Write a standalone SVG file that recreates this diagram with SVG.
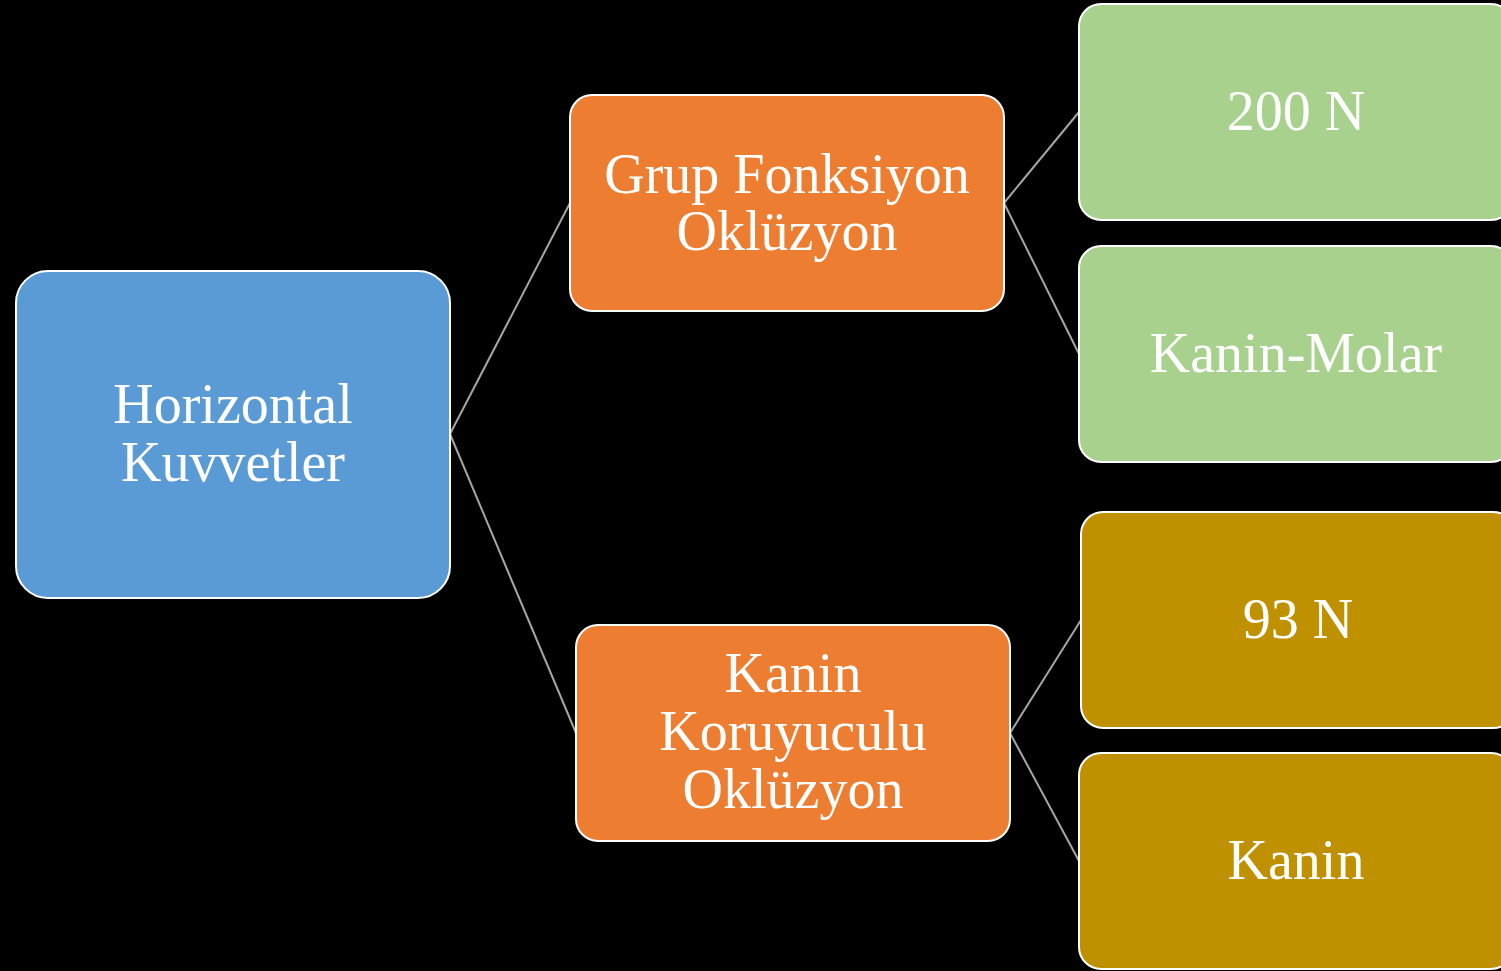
<svg xmlns="http://www.w3.org/2000/svg" width="1501" height="971" viewBox="0 0 1501 971">
<style>
.box{stroke:#fff;stroke-width:2}
.blue{fill:#5B9BD5}.orange{fill:#ED7D31}.green{fill:#A9D18E}.gold{fill:#BF9000}
.t{font-family:"Liberation Serif","Times New Roman",serif;font-size:56px;fill:#fff;text-anchor:middle}
.c{stroke:#A6A6A6;stroke-width:2;fill:none}
</style>
<rect width="1501" height="971" fill="#000"/>
<g id="connectors">
<line class="c" x1="450" y1="434" x2="570" y2="203"/>
<line class="c" x1="450" y1="434" x2="576" y2="733"/>
<line class="c" x1="1004" y1="203" x2="1079" y2="112"/>
<line class="c" x1="1004" y1="203" x2="1079" y2="354"/>
<line class="c" x1="1010" y1="733" x2="1081" y2="620"/>
<line class="c" x1="1010" y1="733" x2="1079" y2="861"/>
</g>
<g id="root">
<rect class="box blue" x="16" y="271" width="434" height="327" rx="32"/>
<text class="t" x="233" y="423">Horizontal</text>
<text class="t" x="233" y="481">Kuvvetler</text>
</g>
<g id="grup">
<rect class="box orange" x="570" y="95" width="434" height="216" rx="22"/>
<text class="t" x="787" y="193">Grup Fonksiyon</text>
<text class="t" x="787" y="250">Oklüzyon</text>
</g>
<g id="kanin-koruyuculu">
<rect class="box orange" x="576" y="625" width="434" height="216" rx="22"/>
<text class="t" x="793" y="692">Kanin</text>
<text class="t" x="793" y="750">Koruyuculu</text>
<text class="t" x="793" y="808">Oklüzyon</text>
</g>
<g id="n200">
<rect class="box green" x="1079" y="4" width="434" height="216" rx="22"/>
<text class="t" x="1296" y="130">200 N</text>
</g>
<g id="kanin-molar">
<rect class="box green" x="1079" y="246" width="434" height="216" rx="22"/>
<text class="t" x="1296" y="372">Kanin-Molar</text>
</g>
<g id="n93">
<rect class="box gold" x="1081" y="512" width="434" height="216" rx="22"/>
<text class="t" x="1298" y="638">93 N</text>
</g>
<g id="kanin">
<rect class="box gold" x="1079" y="753" width="434" height="216" rx="22"/>
<text class="t" x="1296" y="879">Kanin</text>
</g>
</svg>
